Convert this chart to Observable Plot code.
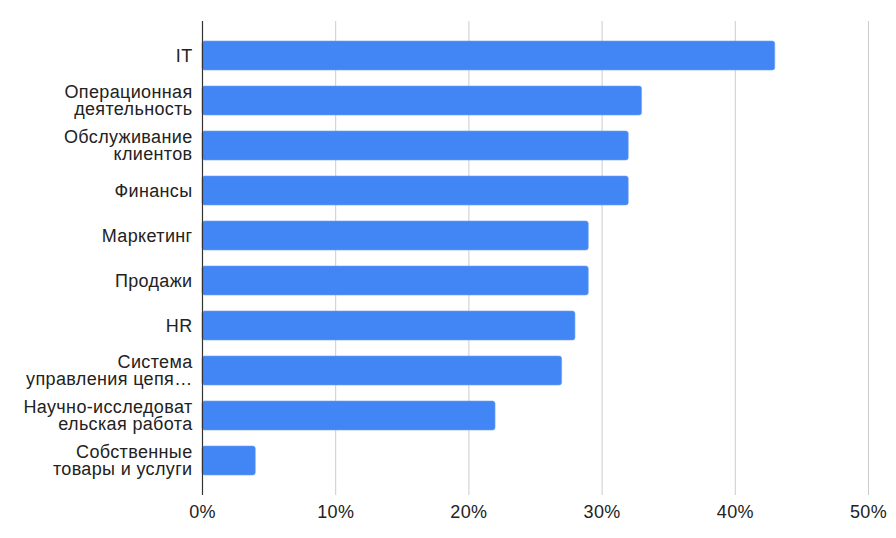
<!DOCTYPE html>
<html>
<head>
<meta charset="utf-8">
<script src="https://cdn.jsdelivr.net/npm/d3@7"></script>
<script src="https://cdn.jsdelivr.net/npm/@observablehq/plot@0.6"></script>
<style>
  html, body { margin: 0; padding: 0; background: #fff; }
  #chart { width: 896px; height: 538px; }
  #chart svg text { letter-spacing: 0.35px; }
</style>
</head>
<body>
<div id="chart"></div>
<script>
const categories = [
  "IT",
  "Операционная\nдеятельность",
  "Обслуживание\nклиентов",
  "Финансы",
  "Маркетинг",
  "Продажи",
  "HR",
  "Система\nуправления цепя…",
  "Научно-исследоват\nельская работа",
  "Собственные\nтовары и услуги"
];
const values = [43, 33, 32, 32, 29, 29, 28, 27, 22, 4];
const xTicks = [0, 10, 20, 30, 40, 50];

const data = categories.map((c, i) => ({category: c, value: values[i]}));

const chart = Plot.plot({
  width: 896,
  height: 538,
  marginLeft: 202,
  marginRight: 28,
  marginTop: 21,
  marginBottom: 43,
  style: {fontFamily: "'Liberation Sans', Arial, sans-serif", fontSize: "18px", color: "#222", background: "#fff"},
  x: {domain: [0, 50], label: null},
  y: {domain: categories, padding: 0.36, label: null},
  marks: [
    Plot.gridX(xTicks.slice(1), {stroke: "#cccccc", strokeOpacity: 1, strokeWidth: 1}),
    Plot.barX(data, {x: "value", y: "category", fill: "#4285F4", stroke: "#6fa3f7", strokeWidth: 0.6, rx: 2.5}),
    Plot.ruleX([0], {stroke: "#333", strokeWidth: 1.2}),
    Plot.axisX(xTicks, {tickSize: 0, tickPadding: 10, tickFormat: d => d + "%", fontSize: 18, fill: "#222", label: null}),
    Plot.axisY({ticks: [], label: null, tickSize: 0}),
    Plot.text(data, {x: 0, y: "category", text: "category", textAnchor: "end", dx: -10, lineHeight: 0.97, fontSize: 18, fill: "#222"})
  ]
});
document.getElementById("chart").appendChild(chart);
</script>
</body>
</html>
